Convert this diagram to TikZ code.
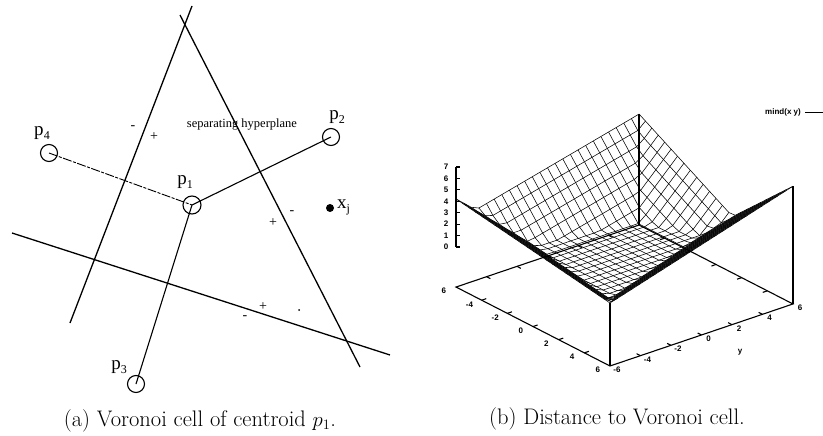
\documentclass[tikz,border=0pt]{standalone}
\usepackage{fontspec}
\newfontfamily\timesf{Liberation Serif}
\newfontfamily\helvf{Liberation Sans}
\newcommand{\lblsub}[2]{#1\raisebox{-4pt}{\fontsize{12}{12}\selectfont #2}}
\begin{document}
\begin{tikzpicture}[x=1pt,y=-1pt,
  vcell/.style={draw, circle, minimum size=17pt, inner sep=0pt, line width=1.1pt},
  hyperline/.style={line width=1.3pt},
  linkline/.style={line width=1.1pt},
  plab/.style={font=\timesf\fontsize{19}{20}\selectfont, inner sep=0pt},
  sgnlab/.style={font=\timesf\fontsize{14}{14}\selectfont, inner sep=0pt},
  captext/.style={font=\fontsize{22.5}{25}\selectfont, inner sep=0pt},
  meshline/.style={line width=0.55pt},
  boxline/.style={line width=1.1pt},
  ticklab/.style={font=\helvf\bfseries\fontsize{8}{8}\selectfont, inner sep=0pt},
  declare function={f(\a,\b)=max(0,-4.78-1.5*\a+0.33*\b,-5.82-0.655*\a+1.35*\b,-2.44+1.14*\a+0.4*\b,-3.97-0.183*\a-1.18*\b);}
]
\useasboundingbox (0,0) rectangle (823,436);

% ---------- (a) Voronoi cell ----------
\coordinate (a1) at (192,6);   \coordinate (a2) at (70,323);
\coordinate (b1) at (180,15);  \coordinate (b2) at (360,367);
\coordinate (c1) at (12,233);  \coordinate (c2) at (390,355);
\draw[hyperline] (a1) -- (a2);
\draw[hyperline] (b1) -- (b2);
\draw[hyperline] (c1) -- (c2);

\node[vcell] (p4) at (49,153) {};
\node[vcell, minimum size=18pt] (p1) at (192,205) {};
\node[vcell] (p2) at (331,137) {};
\node[vcell] (p3) at (136,384) {};
\node[circle, fill, minimum size=8pt, inner sep=0pt] (xj) at (330,208) {};

\draw[line width=0.9pt, dash pattern=on 9pt off 1.5pt on 3pt off 1.5pt] (p4.center) -- (p1.center);
\draw[linkline] (p1.center) -- (p2.center);
\draw[linkline] (p1.center) -- (p3.center);

\node[plab] (l4) at (42,133) {\lblsub{p}{4}};
\node[plab] (l1) at (185,182) {\lblsub{p}{1}};
\node[plab] (l2) at (337,117) {\lblsub{p}{2}};
\node[plab] (l3) at (119,367) {\lblsub{p}{3}};
\node[plab, anchor=west] (lx) at (337,207) {\lblsub{x}{j}};
\node[font=\timesf\fontsize{12.5}{13}\selectfont, inner sep=0pt] (sep) at (242,125) {separating hyperplane};

\node[sgnlab] (s1) at (133,128) {-};
\node[sgnlab] (s2) at (154,137) {+};
\node[sgnlab] (s3) at (273,223) {+};
\node[sgnlab] (s4) at (292,213) {-};
\node[sgnlab] (s5) at (263,307) {+};
\node[sgnlab] (s6) at (245,318) {-};
\fill (299,310) circle (1pt);

\node[captext] (capa) at (200,421) {(a) Voronoi cell of centroid $p_1$.};

% ---------- (b) Distance surface ----------
\node[captext] (capb) at (617,419) {(b) Distance to Voronoi cell.};
\node[font=\helvf\bfseries\fontsize{8}{8}\selectfont, inner sep=0pt, anchor=east] (leg) at (801,112) {mind(x y)};
\coordinate (legend end) at (823,112);
\draw[line width=0.6pt] ([xshift=4pt]leg.east) -- (legend end);

\begin{scope}[shift={(624.5,255.5)}, x={(12.83pt,-6.58pt)}, y={(15.25pt,5.17pt)}, z={(0pt,11.43pt)}]
  % base box
  \draw[boxline] (-6,-6,-3.5) -- (6,-6,-3.5) -- (6,6,-3.5) -- (-6,6,-3.5) -- cycle;
  \foreach \v in {-4,-2,0,2,4} {
    \draw[boxline] (\v,-6,-3.5) -- (\v,-5.7,-3.5);
    \draw[boxline] (\v,6,-3.5) -- (\v,5.7,-3.5);
    \draw[boxline] (-6,\v,-3.5) -- (-5.7,\v,-3.5);
    \draw[boxline] (6,\v,-3.5) -- (5.7,\v,-3.5);
  }
  % verticals
  \draw[boxline] (-6,6,-3.5) -- (-6,6,6.2);
  \draw[boxline] (6,6,-3.5) -- (6,6,6.8);
  \draw[boxline] (6,-6,-3.5) -- (6,-6,2.0);
  % z axis
  \draw[boxline] (-6,-6,0) -- (-6,-6,7);
  \foreach \k in {0,...,7} {
    \draw[boxline] (-6,-6,\k) -- ++(4pt,0pt);
    \node[ticklab] at ([xshift=-10pt]-6,-6,\k) {\k};
  }
  % x labels (edge y=-6)
  \node[ticklab] at (-6,-6.8,-3.5) {6};
  \foreach \v in {-4,-2,0,2,4,6} { \node[ticklab] at (\v,-6.8,-3.5) {\v}; }
  % y labels (edge x=6)
  \foreach \v in {-6,-4,-2,0,2,4,6} { \node[ticklab] at (6.55,\v,-3.5) {\v}; }
  % mesh
  \foreach \i in {0,...,24} {
    \pgfmathsetmacro\u{-6+0.5*\i}
    \draw[meshline] plot[domain=-6:6, samples=25, variable=\t] (\u,\t,{f(\u,\t)});
    \draw[meshline] plot[domain=-6:6, samples=25, variable=\t] (\t,\u,{f(\t,\u)});
  }
\end{scope}
\node[ticklab] (ylab) at (740,352) {y};
\end{tikzpicture}
\end{document}
